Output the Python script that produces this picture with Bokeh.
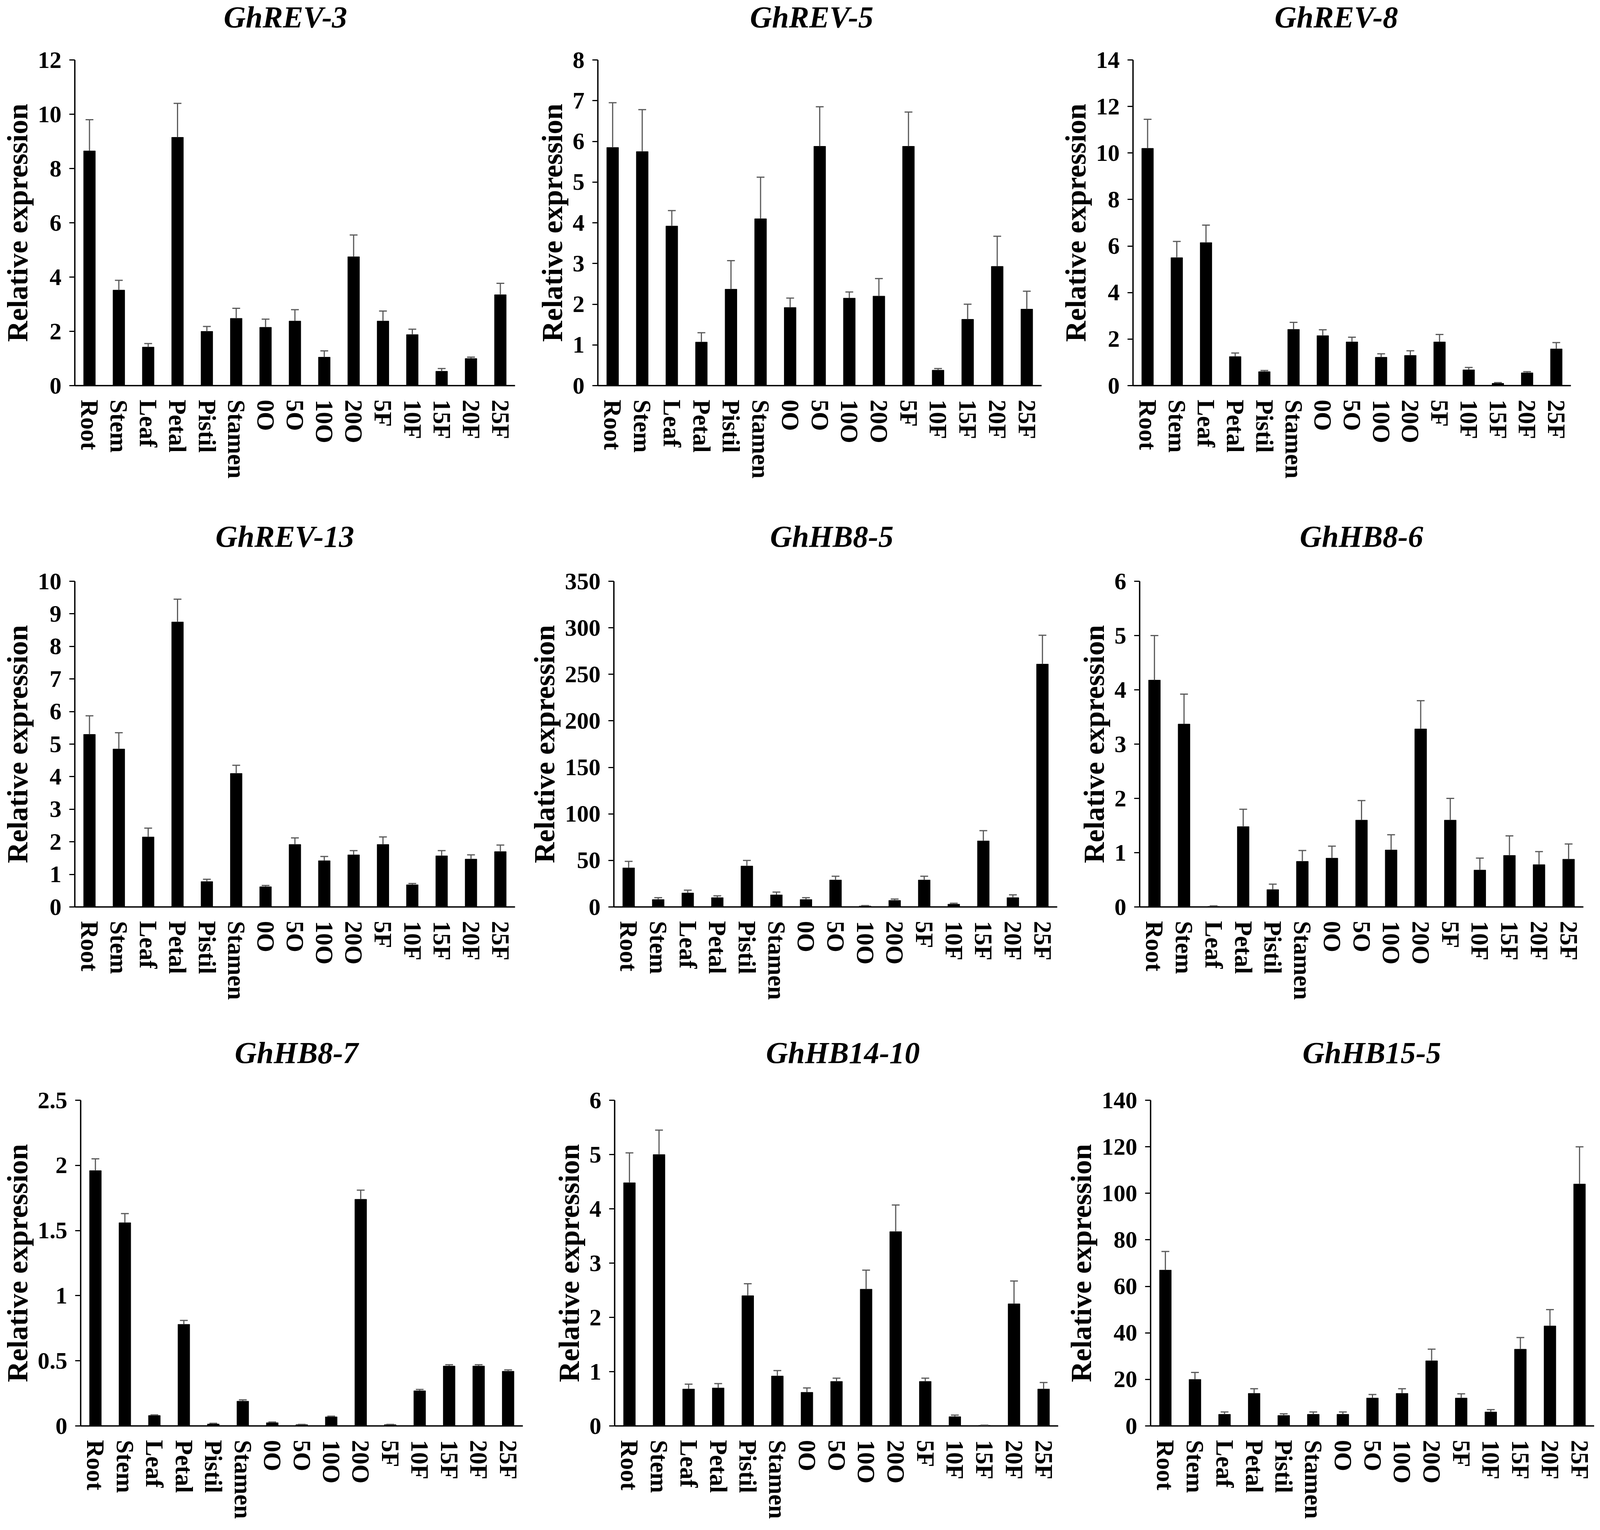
from bokeh.plotting import figure
from bokeh.layouts import column, row
from bokeh.models import (ColumnDataSource, Whisker, TeeHead, Range1d, FactorRange,
                          FixedTicker, NumeralTickFormatter, Label)
from bokeh.embed import file_html
from bokeh.resources import INLINE

# ---------------- data ----------------
categories = ["Root", "Stem", "Leaf", "Petal", "Pistil", "Stamen", "0O", "5O", "10O",
              "20O", "5F", "10F", "15F", "20F", "25F"]

titles = ["GhREV-3", "GhREV-5", "GhREV-8",
          "GhREV-13", "GhHB8-5", "GhHB8-6",
          "GhHB8-7", "GhHB14-10", "GhHB15-5"]

rev3_mean = [8.65, 3.52, 1.42, 9.15, 2.0, 2.48, 2.15, 2.38, 1.05, 4.75, 2.38, 1.88, 0.53, 1.0, 3.35]
rev3_err = [1.15, 0.36, 0.13, 1.25, 0.18, 0.37, 0.30, 0.42, 0.23, 0.80, 0.37, 0.20, 0.10, 0.05, 0.42]

rev5_mean = [5.85, 5.75, 3.92, 1.07, 2.37, 4.1, 1.92, 5.88, 2.15, 2.2, 5.88, 0.38, 1.63, 2.93, 1.88]
rev5_err = [1.1, 1.03, 0.38, 0.23, 0.7, 1.02, 0.23, 0.97, 0.15, 0.43, 0.84, 0.04, 0.37, 0.74, 0.44]

rev8_mean = [10.2, 5.5, 6.15, 1.25, 0.6, 2.42, 2.15, 1.88, 1.22, 1.3, 1.88, 0.68, 0.1, 0.55, 1.58]
rev8_err = [1.25, 0.7, 0.75, 0.15, 0.05, 0.3, 0.25, 0.2, 0.15, 0.2, 0.32, 0.1, 0.03, 0.05, 0.27]

rev13_mean = [5.3, 4.85, 2.15, 8.75, 0.78, 4.1, 0.62, 1.92, 1.42, 1.6, 1.92, 0.68, 1.57, 1.47, 1.7]
rev13_err = [0.57, 0.5, 0.27, 0.7, 0.07, 0.25, 0.04, 0.2, 0.13, 0.13, 0.23, 0.04, 0.16, 0.13, 0.2]

hb8_5_mean = [42, 8, 15, 10, 44, 13, 8, 29, 1, 7, 29, 3, 71, 10, 261]
hb8_5_err = [7, 2, 3, 2, 6, 3, 2, 4, 0.5, 1.5, 4, 1, 11, 3, 31]

hb8_6_mean = [4.18, 3.37, 0.01, 1.48, 0.32, 0.84, 0.9, 1.6, 1.05, 3.28, 1.6, 0.68, 0.95, 0.78, 0.88]
hb8_6_err = [0.82, 0.55, 0.01, 0.32, 0.1, 0.2, 0.22, 0.36, 0.28, 0.52, 0.4, 0.22, 0.36, 0.24, 0.28]

hb8_7_mean = [1.96, 1.56, 0.08, 0.78, 0.015, 0.19, 0.025, 0.01, 0.07, 1.74, 0.01, 0.27, 0.46, 0.46, 0.42]
hb8_7_err = [0.09, 0.07, 0.005, 0.03, 0.005, 0.01, 0.005, 0.002, 0.005, 0.07, 0.002, 0.01, 0.01, 0.01, 0.01]

hb14_10_mean = [4.48, 5.0, 0.68, 0.7, 2.4, 0.92, 0.62, 0.82, 2.52, 3.58, 0.82, 0.17, 0.01, 2.25, 0.68]
hb14_10_err = [0.55, 0.45, 0.09, 0.08, 0.22, 0.1, 0.08, 0.06, 0.35, 0.49, 0.06, 0.03, 0.005, 0.42, 0.12]

hb15_5_mean = [67, 20, 5, 14, 4.5, 5, 5, 12, 14, 28, 12, 6, 33, 43, 104]
hb15_5_err = [8, 3, 1, 2, 0.7, 1, 1, 1.5, 2, 5, 1.8, 1, 5, 7, 16]

rev3_ticks = [0, 2, 4, 6, 8, 10, 12]
rev5_ticks = [0, 1, 2, 3, 4, 5, 6, 7, 8]
rev8_ticks = [0, 2, 4, 6, 8, 10, 12, 14]
rev13_ticks = [0, 1, 2, 3, 4, 5, 6, 7, 8, 9, 10]
hb8_5_ticks = [0, 50, 100, 150, 200, 250, 300, 350]
hb8_6_ticks = [0, 1, 2, 3, 4, 5, 6]
hb8_7_ticks = [0, 0.5, 1, 1.5, 2, 2.5]
hb14_10_ticks = [0, 1, 2, 3, 4, 5, 6]
hb15_5_ticks = [0, 20, 40, 60, 80, 100, 120, 140]

panels = [
    (rev3_mean, rev3_err, rev3_ticks),
    (rev5_mean, rev5_err, rev5_ticks),
    (rev8_mean, rev8_err, rev8_ticks),
    (rev13_mean, rev13_err, rev13_ticks),
    (hb8_5_mean, hb8_5_err, hb8_5_ticks),
    (hb8_6_mean, hb8_6_err, hb8_6_ticks),
    (hb8_7_mean, hb8_7_err, hb8_7_ticks),
    (hb14_10_mean, hb14_10_err, hb14_10_ticks),
    (hb15_5_mean, hb15_5_err, hb15_5_ticks),
]

# ---------------- layout / style ----------------
# horizontal positions are given in reference pixels and scaled by SX so that
# the page fits the visible width; vertical positions are used as they are.
SX = 0.9
FS = 0.95                                  # font scale
FONT = "Liberation Serif"
FRAME_W = 1262
FRAME_H = 834
TB = 100                                   # title band height
col_widths = [1500, 1510, 1524]
col_left_page = [8, 1508, 3018]
row_heights = [1330, 1322, 1250]
row_top_page = [8, 1338, 2660]
frame_top_ref = [161, 1496, 2825]
frame_left_ref = [[210, 1708, 3214], [210, 1752, 3249], [232, 1756, 3280]]
title_cx_ref = [[726, 2236, 3726], [723, 2250, 3780], [740, 2285, 3778]]
title_cy_ref = [40, 1378, 2699]
ERR_COLOR = "#5a5a5a"


def sx(v):
    return int(round(v * SX))


def fpx(v):
    return "%.1fpx" % (v * FS)


fw = sx(FRAME_W)

rows = []
for r in range(3):
    cells = []
    for c in range(3):
        idx = r * 3 + c
        mean, err, ticks = panels[idx]
        upper = [m + e for m, e in zip(mean, err)]
        src = ColumnDataSource(dict(cat=categories, val=mean, upper=upper))

        W = sx(col_widths[c])
        H = row_heights[r] - TB
        top = frame_top_ref[r] - row_top_page[r] - TB
        left = sx(frame_left_ref[r][c] - col_left_page[c])
        bottom = H - top - FRAME_H
        right = W - left - fw

        # ---- title band ----
        t = figure(width=W, height=TB, x_range=Range1d(0, W), y_range=Range1d(0, TB),
                   min_border=0, x_axis_location=None, y_axis_location=None,
                   output_backend="svg", toolbar_location=None)
        t.outline_line_color = None
        t.xgrid.visible = False
        t.ygrid.visible = False
        cy = max(title_cy_ref[r] - row_top_page[r], 43)
        t.add_layout(Label(x=sx(title_cx_ref[r][c] - col_left_page[c]), y=TB - cy,
                           text=titles[idx], text_align="center", text_baseline="middle",
                           text_font=FONT, text_font_size=fpx(82),
                           text_font_style="bold italic", text_color="black"))

        # ---- bar chart ----
        p = figure(x_range=FactorRange(factors=categories),
                   y_range=Range1d(0, ticks[-1]),
                   width=W, height=H,
                   min_border_left=left, min_border_right=right,
                   min_border_top=top, min_border_bottom=bottom,
                   output_backend="svg", toolbar_location=None)
        p.outline_line_color = None
        p.xgrid.visible = False
        p.ygrid.visible = False

        p.vbar(x="cat", top="val", width=0.4, source=src,
               fill_color="black", line_color="black")
        wh = Whisker(source=src, base="cat", upper="upper", lower="val",
                     dimension="height", line_color=ERR_COLOR, line_width=3,
                     upper_head=TeeHead(size=20, line_color=ERR_COLOR, line_width=3),
                     lower_head=None, level="annotation")
        p.add_layout(wh)

        ya = p.yaxis[0]
        ya.ticker = FixedTicker(ticks=ticks)
        ya.formatter = NumeralTickFormatter(format="0.[0]")
        ya.axis_label = "Relative expression"
        ya.axis_label_text_font = FONT
        ya.axis_label_text_font_size = fpx(78)
        ya.axis_label_text_font_style = "bold"
        ya.axis_label_text_color = "black"
        ya.axis_label_standoff = 8
        ya.major_label_text_font = FONT
        ya.major_label_text_font_size = fpx(64)
        ya.major_label_text_font_style = "bold"
        ya.major_label_text_color = "black"
        ya.major_label_standoff = 20
        ya.axis_line_width = 3.5
        ya.axis_line_color = "black"
        ya.major_tick_out = 14
        ya.major_tick_in = 0
        ya.major_tick_line_width = 3
        ya.major_tick_line_color = "black"
        ya.minor_tick_line_color = None

        xa = p.xaxis[0]
        xa.major_label_orientation = "vertical"
        xa.major_label_text_font = FONT
        xa.major_label_text_font_size = fpx(66)
        xa.major_label_text_font_style = "bold"
        xa.major_label_text_color = "black"
        xa.major_label_standoff = 30
        xa.major_tick_line_color = None
        xa.minor_tick_line_color = None
        xa.axis_line_width = 3.5
        xa.axis_line_color = "black"

        cells.append(column(t, p, spacing=0))
    rows.append(row(*cells, spacing=0))

layout = column(*rows, spacing=0)
open("out.html", "w").write(file_html(layout, INLINE))
